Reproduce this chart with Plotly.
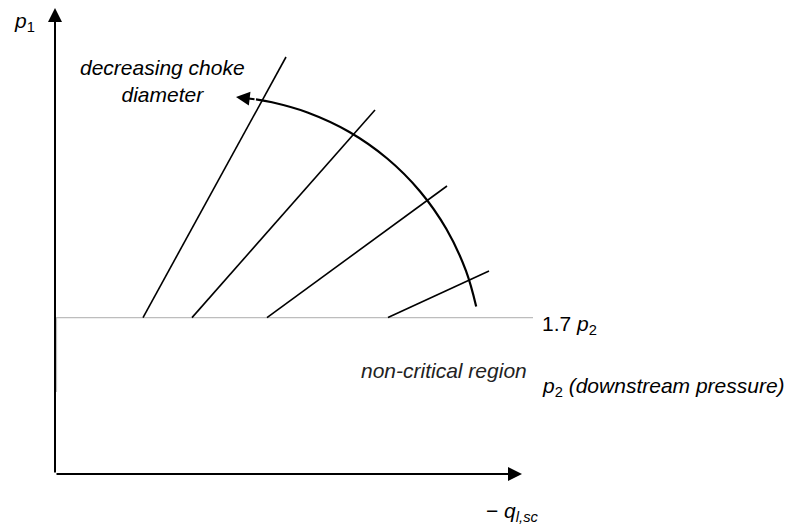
import plotly.graph_objects as go

# Choke performance sketch: upstream pressure p1 vs. rate, critical-flow lines
# in relative drawing units (origin at the axis corner).

# critical-flow lines, one per choke size: (start on 1.7*p2 line) -> (end)
choke_x0 = [88, 137, 212, 333]
choke_x1 = [231, 320, 392, 434]
choke_y1 = [417, 364, 288, 203]

crit_level = 156.4      # 1.7 * p2
crit_end_x = 478        # right end of the 1.7 p2 guide line
p2_guide_bottom = 82    # short grey tick along the p1 axis

# curved arrow "decreasing choke diameter" (a circular arc, listed point by point)
arc_x = [421.2, 411.0, 391.4, 364.9, 332.2, 294.4, 252.5, 217.0, 201.0]
arc_y = [167.6, 203.1, 245.0, 282.8, 315.5, 342.0, 361.5, 371.7, 374.6]
arc_tip = (181, 377)

# axis arrow tips
x_axis_tip = 467
y_axis_tip = 466

FONT = "Arial, Liberation Sans, Helvetica, sans-serif"
TEXT_SIZE = 21

fig = go.Figure()

# grey guide for 1.7 p2 and the short grey tick on the axis
fig.add_trace(go.Scatter(x=[1, crit_end_x], y=[crit_level, crit_level], mode="lines",
                         line=dict(color="#bdbdbd", width=1.2), hoverinfo="skip"))
fig.add_trace(go.Scatter(x=[1.5, 1.5], y=[crit_level, p2_guide_bottom], mode="lines",
                         line=dict(color="#bdbdbd", width=1.2), hoverinfo="skip"))

# choke lines
for xa, xb, yb in zip(choke_x0, choke_x1, choke_y1):
    fig.add_trace(go.Scatter(x=[xa, xb], y=[crit_level, yb], mode="lines",
                             line=dict(color="black", width=1.6), hoverinfo="skip"))

# arc
fig.add_trace(go.Scatter(x=arc_x, y=arc_y, mode="lines", line_shape="spline",
                         line=dict(color="black", width=2.2), hoverinfo="skip"))

annotations = []

def arrow(x, y, ax, ay, width=2, size=1.4):
    annotations.append(dict(x=x, y=y, ax=ax, ay=ay, xref="x", yref="y",
                            axref="x", ayref="y", text="", showarrow=True,
                            arrowhead=2, arrowwidth=width, arrowsize=size,
                            arrowcolor="black", standoff=0, startstandoff=0))

# axes with arrowheads
arrow(0, y_axis_tip, 0, 0)
arrow(x_axis_tip, 0, 0, 0)
# arc arrowhead
arrow(arc_tip[0], arc_tip[1], arc_x[-1], arc_y[-1], width=2.2, size=1.25)

def label(x, y, text, xanchor="center", color="black", size=TEXT_SIZE):
    annotations.append(dict(x=x, y=y, xref="x", yref="y", text=text, showarrow=False,
                            xanchor=xanchor, yanchor="middle", align="center",
                            font=dict(family=FONT, size=size, color=color)))

label(-31, 452, "<i>p</i><sub>1</sub>")
label(107, 393, "<i>decreasing choke</i><br><i>diameter</i>")
label(485, 149, "1.7 <i>p</i><sub>2</sub>", xanchor="left")
label(304, 104, "<i>non-critical region</i>", xanchor="left", color="#222222")
label(485, 87, "<i>p</i><sub>2</sub><i> (downstream pressure)</i>", xanchor="left")
label(457, -38, "\u2212 <i>q</i><sub><i>l,sc</i></sub>")

fig.update_layout(
    width=799, height=525,
    margin=dict(l=0, r=0, t=0, b=0),
    paper_bgcolor="white", plot_bgcolor="white",
    showlegend=False,
    annotations=annotations,
    xaxis=dict(range=[-55, 744], visible=False, fixedrange=True),
    yaxis=dict(range=[-51, 474], visible=False, fixedrange=True),
)

fig.write_html("out.html")
